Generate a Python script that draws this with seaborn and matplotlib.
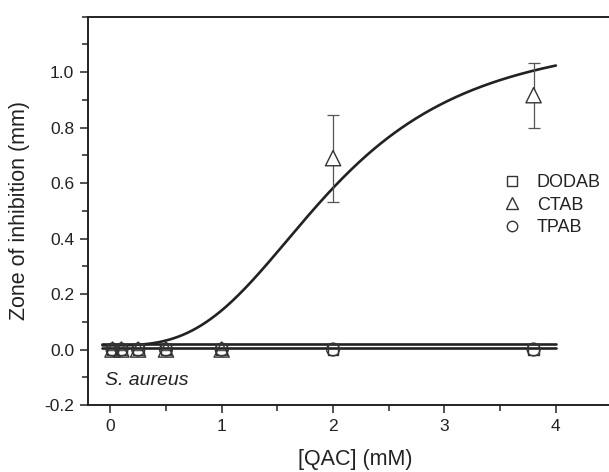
import numpy as np
import pandas as pd
import matplotlib
matplotlib.use("Agg")
import matplotlib.pyplot as plt
from matplotlib.lines import Line2D
from matplotlib.ticker import MultipleLocator
import seaborn as sns

# Measured zone of inhibition against S. aureus for three QACs
conc = [0.02, 0.1, 0.25, 0.5, 1.0, 2.0, 3.8]          # mM
dodab = [0.0, 0.0, 0.0, 0.0, 0.0, 0.0, 0.0]
ctab = [0.0, 0.0, 0.0, 0.0, 0.0, 0.69, 0.917]
ctab_err = [0.0, 0.0, 0.0, 0.0, 0.0, 0.157, 0.117]
tpab = [0.0, 0.0, 0.0, 0.0, 0.0, 0.0, 0.0]

# Fitted models: Hill fit for CTAB, flat fits for DODAB / TPAB
hill_base, hill_amp, hill_k, hill_n = 0.015, 1.135, 2.0, 3.0
flat_dodab, flat_tpab = 0.005, 0.020
fit_range = (-0.07, 4.0)

sns.set_theme(style="ticks")
plt.rcParams["font.family"] = ["Liberation Sans", "DejaVu Sans"]

fig = plt.figure(figsize=(6.09, 4.72), dpi=100)
ax = fig.add_axes([88 / 609, 67 / 472, 534.7 / 609, 388.3 / 472])

ink = "#222222"
mark = "#333333"

xf = np.linspace(fit_range[0], fit_range[1], 400)
xc = np.clip(xf, 0, None)
yh = hill_base + hill_amp * xc**hill_n / (hill_k**hill_n + xc**hill_n)
fits = pd.DataFrame({
    "x": np.concatenate([xf, xf, xf]),
    "y": np.concatenate([yh, np.full_like(xf, flat_dodab), np.full_like(xf, flat_tpab)]),
    "fit": ["CTAB"] * len(xf) + ["DODAB"] * len(xf) + ["TPAB"] * len(xf),
})
sns.lineplot(data=fits, x="x", y="y", units="fit", estimator=None,
             color=ink, lw=1.9, ax=ax, legend=False, sort=False)

# error bars for CTAB
ax.errorbar(conc, ctab, yerr=ctab_err, fmt="none", ecolor="#555555",
            elinewidth=0.9, capsize=4, capthick=0.9, zorder=3)

pts = pd.DataFrame({
    "x": conc * 3,
    "y": dodab + ctab + tpab,
    "qac": ["DODAB"] * len(conc) + ["CTAB"] * len(conc) + ["TPAB"] * len(conc),
})
markers = {"DODAB": "s", "CTAB": "^", "TPAB": "o"}
sizes = {"DODAB": 60, "CTAB": 120, "TPAB": 85}
for name in ["DODAB", "CTAB", "TPAB"]:
    sub = pts[pts.qac == name]
    sns.scatterplot(data=sub, x="x", y="y", marker=markers[name], s=sizes[name],
                    facecolor="white", edgecolor=mark, linewidth=1.0,
                    ax=ax, legend=False, zorder=4)
# hollow markers on the baseline, white-filled ones above it hide the bars
for coll in ax.collections:
    if hasattr(coll, "get_offsets") and len(coll.get_offsets()) == len(conc):
        ys = np.asarray(coll.get_offsets())[:, 1]
        coll.set_facecolor([(1, 1, 1, 1) if v > 0.1 else (1, 1, 1, 0) for v in ys])

ax.set_xlim(-0.2, 4.6)
ax.set_ylim(-0.2, 1.2)
ax.xaxis.set_major_locator(MultipleLocator(1))
ax.xaxis.set_minor_locator(MultipleLocator(0.5))
ax.set_yticks(np.round(np.arange(-0.2, 1.01, 0.2), 1))
ax.yaxis.set_minor_locator(MultipleLocator(0.1))
ax.set_yticklabels([f"{v:.1f}" for v in np.arange(-0.2, 1.01, 0.2)])
ax.tick_params(which="major", direction="out", length=6, width=1.1,
               labelsize=12.5, colors=ink, pad=4)
ax.tick_params(which="minor", direction="out", length=4, width=1.1, colors=ink)
ax.tick_params(axis="x", which="both", top=False)
ax.tick_params(axis="y", which="both", right=False)

for side in ["left", "bottom", "top"]:
    ax.spines[side].set_color(ink)
    ax.spines[side].set_linewidth(1.4)
ax.spines["right"].set_visible(False)

ax.set_xlabel("[QAC] (mM)", fontsize=15.5, color=ink, labelpad=11)
ax.set_ylabel("Zone of inhibition (mm)", fontsize=15.5, color=ink, labelpad=10)

ax.text(-0.05, -0.113, "S. aureus", fontsize=14, style="italic", color=ink,
        ha="left", va="center")

handles = [
    Line2D([], [], ls="none", marker="s", ms=6.5, mfc="none", mec=mark, mew=1.0),
    Line2D([], [], ls="none", marker="^", ms=9, mfc="none", mec=mark, mew=1.0),
    Line2D([], [], ls="none", marker="o", ms=7.5, mfc="none", mec=mark, mew=1.0),
]
leg = ax.legend(handles, ["DODAB", "CTAB", "TPAB"], frameon=False, fontsize=13,
                loc="center left", bbox_to_anchor=(0.745, 0.515),
                handletextpad=0.9, labelspacing=0.3, handlelength=1.0)
for t in leg.get_texts():
    t.set_color(ink)

fig.savefig("out.png", dpi=100)
